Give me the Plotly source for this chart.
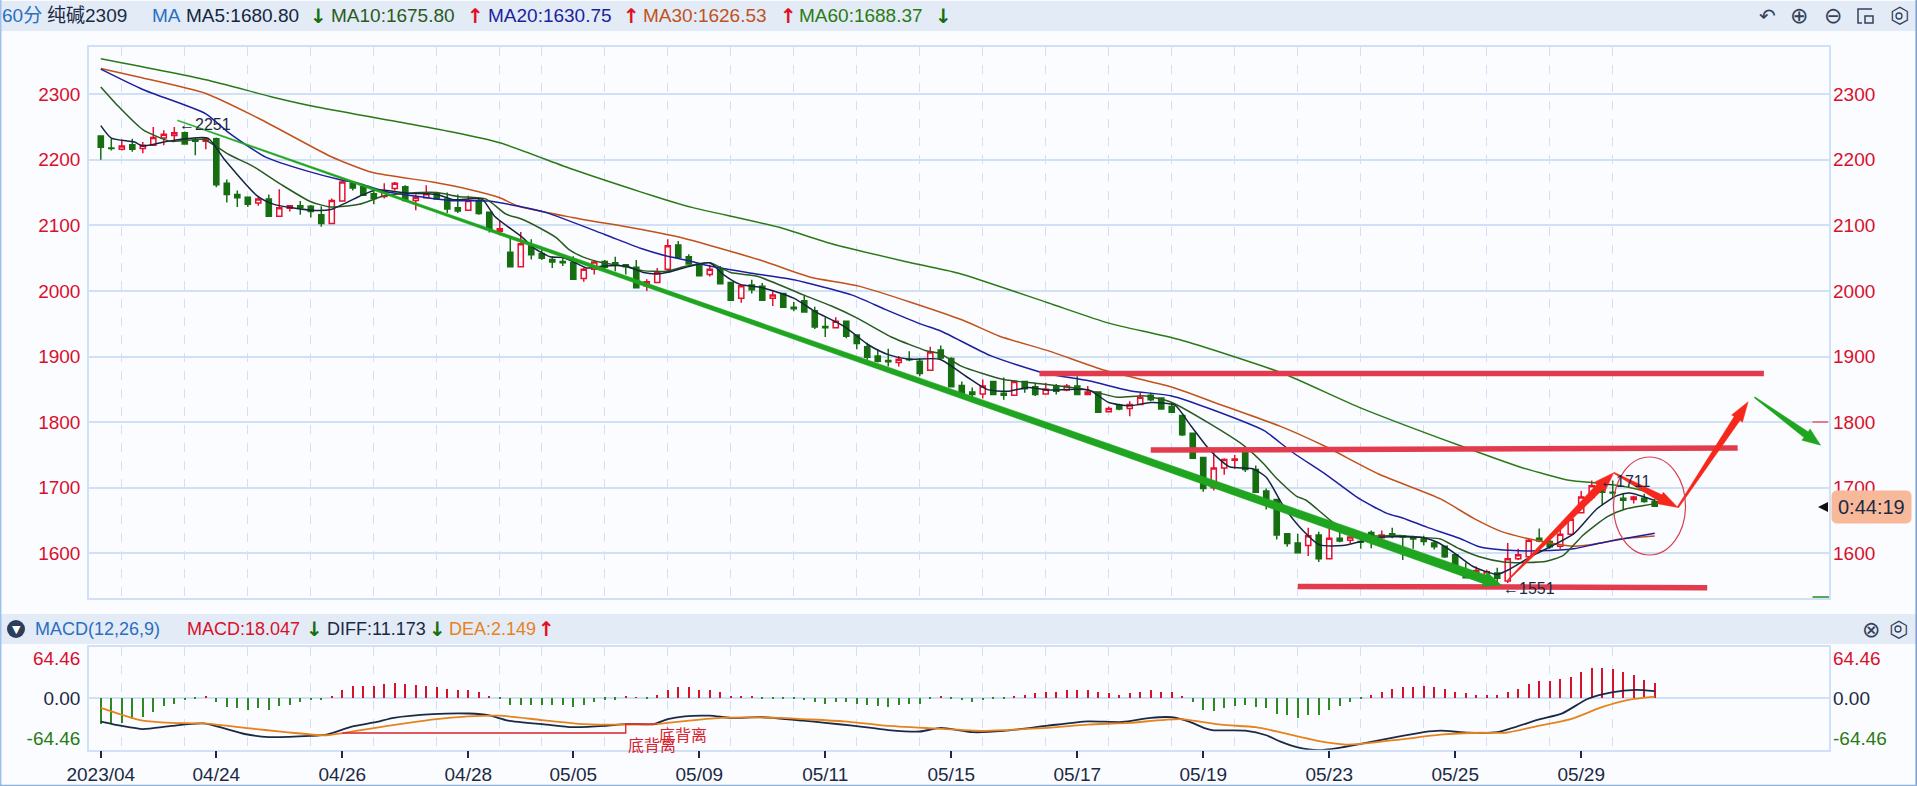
import plotly.graph_objects as go

W = 1917
H = 786

# candles, bar index 0..148
open_ = [2236, 2218, 2216, 2223, 2217, 2222, 2233, 2237, 2241, 2229, 2228, 2232, 2164, 2147, 2143, 2134, 2140, 2114, 2126, 2130,
  2129, 2116, 2103, 2137, 2164, 2159, 2148, 2144, 2156, 2159, 2138, 2142, 2148, 2140, 2127, 2123, 2138, 2120, 2091, 2059,
  2037, 2070, 2057, 2048, 2045, 2043, 2019, 2033, 2045, 2043, 2040, 2036, 2008, 2013, 2033, 2070, 2052, 2041, 2025, 2033,
  2013, 1989, 2009, 2007, 1989, 1996, 1975, 1985, 1970, 1946, 1944, 1954, 1933, 1915, 1901, 1894, 1891, 1896, 1893, 1879,
  1910, 1897, 1856, 1846, 1843, 1862, 1844, 1841, 1862, 1854, 1843, 1855, 1849, 1855, 1842, 1846, 1816, 1826, 1821, 1827,
  1841, 1837, 1824, 1810, 1783, 1746, 1700, 1730, 1742, 1756, 1728, 1695, 1682, 1630, 1616, 1612, 1628, 1592, 1623, 1620,
  1618, 1632, 1624, 1630, 1627, 1625, 1622, 1616, 1611, 1598, 1572, 1567, 1566, 1570, 1558, 1592, 1595, 1623, 1618, 1611,
  1629, 1662, 1685, 1699, 1693, 1684, 1682, 1684, 1679]
close = [2219, 2217, 2221, 2216, 2222, 2234, 2239, 2241, 2224, 2228, 2232, 2162, 2147, 2142, 2132, 2140, 2114, 2127, 2130, 2127,
  2121, 2103, 2138, 2166, 2157, 2146, 2141, 2152, 2164, 2138, 2143, 2148, 2140, 2125, 2122, 2138, 2118, 2094, 2095, 2037,
  2072, 2055, 2050, 2044, 2043, 2018, 2033, 2044, 2036, 2040, 2037, 2005, 2014, 2028, 2069, 2051, 2041, 2023, 2033, 2011,
  1986, 2008, 2002, 1986, 1994, 1975, 1973, 1968, 1945, 1944, 1954, 1931, 1920, 1899, 1893, 1892, 1896, 1895, 1874, 1907,
  1898, 1854, 1844, 1842, 1855, 1842, 1841, 1862, 1851, 1842, 1850, 1847, 1855, 1842, 1846, 1815, 1821, 1820, 1827, 1838,
  1834, 1820, 1815, 1781, 1745, 1699, 1730, 1743, 1744, 1728, 1693, 1683, 1628, 1615, 1601, 1627, 1592, 1623, 1619, 1625,
  1617, 1625, 1628, 1626, 1625, 1622, 1618, 1610, 1595, 1582, 1563, 1574, 1572, 1562, 1592, 1598, 1620, 1619, 1610, 1629,
  1652, 1686, 1703, 1693, 1692, 1681, 1686, 1679, 1672]
high = [2236, 2232, 2231, 2232, 2227, 2250, 2245, 2250, 2243, 2234, 2234, 2234, 2170, 2153, 2144, 2144, 2147, 2155, 2131, 2137,
  2131, 2129, 2141, 2170, 2166, 2162, 2152, 2164, 2166, 2161, 2147, 2161, 2151, 2150, 2147, 2145, 2141, 2121, 2107, 2081,
  2090, 2079, 2065, 2053, 2051, 2053, 2035, 2046, 2047, 2052, 2041, 2047, 2018, 2035, 2079, 2076, 2056, 2043, 2040, 2038,
  2014, 2010, 2017, 2012, 2000, 1997, 1983, 1994, 1976, 1960, 1960, 1955, 1934, 1921, 1911, 1912, 1901, 1908, 1897, 1915,
  1917, 1899, 1862, 1853, 1865, 1863, 1868, 1864, 1863, 1860, 1860, 1858, 1858, 1870, 1855, 1846, 1824, 1828, 1832, 1845,
  1845, 1838, 1830, 1811, 1783, 1746, 1754, 1745, 1750, 1756, 1734, 1699, 1683, 1630, 1630, 1639, 1633, 1639, 1635, 1625,
  1620, 1635, 1635, 1639, 1627, 1627, 1627, 1619, 1612, 1600, 1586, 1580, 1575, 1578, 1616, 1607, 1623, 1638, 1625, 1640,
  1655, 1695, 1711, 1706, 1711, 1691, 1688, 1691, 1683]
low = [2200, 2214, 2214, 2212, 2210, 2221, 2222, 2230, 2224, 2207, 2216, 2158, 2135, 2128, 2128, 2130, 2114, 2114, 2121, 2116,
  2112, 2098, 2103, 2137, 2153, 2146, 2132, 2141, 2153, 2137, 2123, 2141, 2140, 2119, 2119, 2123, 2116, 2089, 2085, 2037,
  2037, 2048, 2047, 2035, 2038, 2018, 2014, 2025, 2033, 2030, 2025, 2005, 2000, 2013, 2029, 2050, 2040, 2023, 2022, 2010,
  1986, 1982, 1996, 1986, 1977, 1975, 1969, 1968, 1942, 1930, 1943, 1928, 1911, 1895, 1891, 1885, 1885, 1893, 1870, 1879,
  1895, 1853, 1843, 1838, 1836, 1841, 1834, 1840, 1845, 1840, 1842, 1842, 1847, 1842, 1841, 1815, 1815, 1818, 1809, 1826,
  1832, 1820, 1815, 1779, 1744, 1694, 1696, 1720, 1729, 1724, 1693, 1667, 1621, 1610, 1601, 1596, 1587, 1592, 1617, 1615,
  1607, 1608, 1622, 1623, 1590, 1607, 1612, 1606, 1593, 1578, 1562, 1565, 1564, 1551, 1555, 1590, 1595, 1617, 1607, 1607,
  1629, 1662, 1681, 1673, 1685, 1666, 1676, 1677, 1672]

ma5_x = [0, 1, 3.2, 4, 6, 7.5, 10.2, 11.8, 14.9, 16.5, 20, 21.9, 24.6, 26.2, 29.3, 32, 33.6, 36.3, 37.5, 40.2, 41.2, 42.8, 44,
  45.2, 46.3, 47.9, 50, 51.7, 53, 53.9, 55.5, 58, 59.3, 60.9, 63, 66, 68, 70.8, 73.1, 75, 77, 79.9, 82.4, 84.4, 86.3, 88.3,
  90.2, 94.1, 96, 98, 100, 102.3, 103.8, 105.7, 107.5, 109.7, 111, 112.6, 114.2, 116.1, 118.3, 120.2, 122.1, 126, 127.3,
  128.8, 130.7, 133, 134.2, 136.4, 138.3, 140.3, 142.5, 144.4, 145.6, 148]
ma5_y = [2252, 2233, 2227, 2221, 2227, 2231, 2233, 2200, 2145, 2132, 2123, 2124, 2144, 2154, 2149, 2147, 2139, 2140, 2114, 2081,
  2066, 2052, 2051, 2043, 2035, 2038, 2038, 2028, 2026, 2028, 2035, 2043, 2025, 2010, 2005, 1989, 1969, 1946, 1918, 1903,
  1896, 1896, 1870, 1850, 1847, 1853, 1849, 1849, 1830, 1825, 1830, 1826, 1795, 1756, 1732, 1729, 1716, 1673, 1640, 1613,
  1612, 1619, 1625, 1624, 1617, 1602, 1580, 1568, 1576, 1597, 1612, 1630, 1668, 1688, 1692, 1680.8]
ma10_x = [0, 1.7, 4, 6.7, 9.8, 12.2, 14.5, 17.2, 20, 21.9, 24.6, 27, 29.3, 32, 34, 36.7, 38.6, 40, 41.8, 43.4, 44.6, 45.9, 47.8,
  49.7, 51.6, 53.8, 55.8, 58, 60, 62.6, 66.9, 69.6, 72, 75.4, 78.6, 80, 82, 86, 88.7, 93.7, 96.8, 99.5, 102, 105.7, 108.9,
  110.8, 112, 113.9, 114.8, 117.3, 119.3, 124, 126, 127.6, 129.4, 131.3, 133.6, 135.8, 137.7, 139.3, 141.2, 143.5, 145.3, 148]
ma10_y = [2311, 2281, 2246, 2228, 2231, 2208, 2190, 2162, 2136, 2128, 2132, 2145, 2149, 2150, 2144, 2140, 2117, 2110, 2096, 2081,
  2063, 2052, 2043, 2038, 2031, 2030, 2038, 2043, 2028, 2022, 1994, 1977, 1959, 1929, 1909, 1904, 1885, 1865, 1860, 1850, 1838,
  1840, 1830, 1797, 1764, 1736, 1714, 1687, 1681, 1648, 1628, 1627, 1624, 1622, 1607, 1595, 1587, 1586, 1588, 1597, 1628, 1656,
  1668, 1675.8]
ma20_x = [0, 4, 10, 12.2, 15.7, 19.6, 22.7, 24.6, 27, 33.2, 37, 39.8, 42.5, 48, 51.4, 53.7, 56, 58, 62, 66, 71.5, 74.7, 78.2, 80,
  84.8, 89.8, 94.1, 98, 102, 105.7, 110.8, 112.3, 113.6, 116.8, 119.9, 122.5, 124, 126.3, 129.4, 131.3, 133.6, 137, 140.3, 142.6,
  145.3, 148]
ma20_y = [2338, 2307, 2270, 2241, 2204, 2183, 2170, 2164, 2152, 2138, 2137, 2129, 2119, 2086, 2065, 2054, 2046, 2038, 2027, 2017,
  1994, 1972, 1949, 1939, 1901, 1875, 1863, 1848, 1840, 1820, 1787, 1769, 1753, 1719, 1683, 1661, 1654, 1640, 1623, 1610, 1605,
  1604, 1607, 1615, 1623, 1630.75]
ma30_x = [0, 3.6, 10, 15.3, 21.9, 25.8, 31.6, 35, 38, 39.8, 44.9, 51.4, 55.6, 63, 67.6, 72.3, 82, 85.6, 90.2, 95.6, 101.9, 106.6,
  112.3, 116.5, 121.7, 127.6, 130.8, 133.3, 135.8, 138.3, 140.3, 142.6, 144.7, 148]
ma30_y = [2339, 2326, 2301, 2261, 2205, 2181, 2166, 2155, 2142, 2129, 2112, 2094, 2080, 2046, 2021, 2007, 1956, 1931, 1909, 1879,
  1854, 1827, 1794, 1764, 1721, 1683, 1653, 1634, 1623, 1615, 1611, 1615, 1622, 1626.53]
ma60_x = [0, 10, 16.5, 20.7, 29.3, 33.6, 38, 45, 51.4, 54, 56.4, 64.6, 69.6, 76.6, 81.7, 90.2, 96, 102.7, 112.5, 119.8, 129.5,
  135.3, 140, 142, 144.7, 147.2, 148]
ma60_y = [2354, 2322, 2295, 2280, 2255, 2242, 2226, 2185, 2151, 2138, 2127, 2097, 2072, 2045, 2027, 1982, 1951, 1926, 1875, 1823,
  1764, 1731, 1711, 1708, 1703, 1694, 1688.37]

macd_bar = [-42, -42, -40, -35, -31, -23, -14, -10, -4, -1.5, 1.5, -7, -15, -16, -19, -17, -19, -14, -12, -7,
  -4, -4, 1.5, 12, 19, 19, 19, 21.5, 24, 22, 20, 19, 17, 14.5, 12, 12, 10, 1.5, -1.5, -12,
  -12, -12, -12, -12, -12, -15, -12, -7, -3, -3, 2.5, 1, -1.5, 5, 13, 17, 17, 13, 12, 10,
  3, 2, 2, -1.5, -2, -2, -1.5, -4, -7.5, -10, -7, -7.5, -10, -12, -14, -15, -12, -10, -10, -2,
  2, -2, -4, -7, -4, -2, -2.5, 1.5, 4, 7.5, 10, 10, 12, 12, 12, 10, 7.5, 4, 7.5, 10,
  12, 10, 10, 1.5, -6.5, -19, -21.5, -17, -14, -12, -15.5, -17, -26, -28, -33, -28, -28, -19, -14, -7,
  -1, 5, 9, 14, 16.5, 16.5, 19, 16.5, 14, 10, 7, 4, 4, 4, 10, 14.5, 22, 27, 27, 30,
  34, 41, 48, 48, 46, 41, 36, 29, 24]
diff_x = [0, 2, 4, 6.7, 9.8, 13.7, 16, 20, 21.5, 23.9, 26.2, 27.9, 31.6, 35.1, 37, 38.8, 42.5, 44.9, 48, 50, 52.7, 54, 55.6, 58, 60,
  63, 66.9, 69, 71.6, 75, 78, 80, 83, 86, 90.2, 94, 97.3, 100, 102, 103.6, 105.2, 106, 109, 111, 112.3, 114, 116, 117.8, 120,
  123.7, 126, 127.6, 130.3, 133, 136.9, 139.2, 141.6, 143.9, 146.2, 148]
diff_y = [-38, -45, -50, -45, -41, -58, -63, -61, -59, -46, -39, -32, -26, -25, -28, -36.5, -43, -47, -45, -42, -42, -34, -29.5,
  -28.5, -32, -31, -36.5, -40, -44.6, -51.6, -54, -48, -55, -53, -44.6, -37.6, -38.7, -32, -31, -37.6, -49, -52, -52.6, -60, -70,
  -79.5, -84, -80.6, -74, -62, -55, -52.6, -56, -55, -35, -24.7, -1.6, 9, 13, 11.173]
dea_x = [0, 2, 4, 6.7, 9.8, 13.7, 17.6, 21.5, 25.4, 29.3, 32, 35, 38, 42, 46, 50, 52.9, 56, 59.1, 64.6, 66.9, 70.8, 74.7, 79.3, 84,
  86.3, 90.2, 94, 98, 102.8, 106.7, 110, 112.3, 115.9, 118.6, 120, 123.7, 127.6, 131.5, 133.8, 136.9, 140, 143.1, 145.5, 148]
dea_y = [-16, -27, -36.5, -40, -41, -48, -55, -60, -50, -40, -34, -29.5, -28.5, -35.5, -42, -43, -42, -36.5, -32, -32, -34, -37.6,
  -44.6, -49, -53, -51.6, -48, -43, -40, -34, -43, -47, -55, -69, -75, -74, -67, -59, -56, -56, -45, -34, -14, -3, 2.149]

grid_idx = [2, 8, 14, 20, 26, 32, 38, 42, 48, 54, 60, 66, 72, 78, 84, 90, 96, 102, 108, 114, 120, 126, 132, 138, 144]
tick_idx = [0, 11, 23, 35, 45, 57, 69, 81, 93, 105, 117, 129, 141]
tick_labels = ['2023/04', '04/24', '04/26', '04/28', '05/05', '05/09', '05/11', '05/15', '05/17', '05/19', '05/23', '05/25', '05/29']
price_ticks = [1600, 1700, 1800, 1900, 2000, 2100, 2200, 2300]
macd_ticks = [-64.46, 0, 64.46]

# hand drawn marks on the chart: (bar index, price)
hlines = [
  [(89.4, 1874), (158.4, 1874)],
  [(100, 1757.5), (155.9, 1760.5)],
  [(114, 1549.7), (153, 1547.7)],
]
# start, tip, tail width, neck width, head width, head length (px)
arrows = [
  [(7.3, 2260), (133.4, 1551.6), 1, 9, 15, 18, '#1fa51f'],
  [(134, 1559), (144.1, 1723), 1, 8, 14, 20, '#f6281c'],
  [(144.1, 1723), (150.2, 1670), 1, 7, 13, 20, '#f6281c'],
  [(150.2, 1670), (156.9, 1831), 1.5, 7, 13, 20, '#f6281c'],
  [(157.5, 1838), (163.8, 1765), 1, 7, 14, 18, '#1fa51f'],
]

BG = '#fbfcff'
BAR_BG = '#e3ebf6'
GRID = '#d0e0f5'
RED = '#d8102c'
GREEN = '#166e10'
NAVY = '#1b2a44'
BLUE = '#2a6fc0'
ORANGE = '#e6831c'
MA5_C = '#14263f'
MA10_C = '#2a5a1e'
MA20_C = '#1c1fa0'
MA30_C = '#c2521a'
MA60_C = '#2a7a14'
FONT = 'Liberation Sans, Noto Sans CJK SC, sans-serif'

# pixel box of the two panels
L, R = 89, 1829
T1, B1 = 46.7, 598
T2, B2 = 647.3, 749.7
X_RANGE = [-1.124, 164.6]
Y1_RANGE = [1532, 2372.3]
Y2_RANGE = [-83.3, 81.7]


def px(x):
  return x / W


def py(y):
  return 1 - y / H


def to_px(idx, price):
  x = L + (idx - X_RANGE[0]) / (X_RANGE[1] - X_RANGE[0]) * (R - L)
  y = T1 + (Y1_RANGE[1] - price) / (Y1_RANGE[1] - Y1_RANGE[0]) * (B1 - T1)
  return x, y


def to_data(x, y):
  idx = X_RANGE[0] + (x - L) / (R - L) * (X_RANGE[1] - X_RANGE[0])
  price = Y1_RANGE[1] - (y - T1) / (B1 - T1) * (Y1_RANGE[1] - Y1_RANGE[0])
  return idx, price


def arrow_polygon(start, tip, w0, w1, head_w, head_l):
  x0, y0 = to_px(*start)
  x1, y1 = to_px(*tip)
  length = ((x1 - x0) ** 2 + (y1 - y0) ** 2) ** 0.5
  ux, uy = (x1 - x0) / length, (y1 - y0) / length
  nx, ny = -uy, ux
  bx, by = x1 - ux * head_l, y1 - uy * head_l
  pts = [
    (x0 + nx * w0 / 2, y0 + ny * w0 / 2),
    (bx + nx * w1 / 2, by + ny * w1 / 2),
    (bx + nx * head_w / 2, by + ny * head_w / 2),
    (x1, y1),
    (bx - nx * head_w / 2, by - ny * head_w / 2),
    (bx - nx * w1 / 2, by - ny * w1 / 2),
    (x0 - nx * w0 / 2, y0 - ny * w0 / 2),
  ]
  pts = [to_data(*p) for p in pts]
  return [p[0] for p in pts], [p[1] for p in pts]


fig = go.Figure()

idx = list(range(len(close)))

fig.add_trace(go.Candlestick(
  x=idx, open=open_, high=high, low=low, close=close,
  increasing=dict(line=dict(color='#e8102e', width=1.5), fillcolor=BG),
  decreasing=dict(line=dict(color=GREEN, width=1.5), fillcolor=GREEN),
  whiskerwidth=0,
  showlegend=False,
  xaxis='x', yaxis='y',
))

for xs, ys, color in [
  (ma60_x, ma60_y, MA60_C),
  (ma30_x, ma30_y, MA30_C),
  (ma20_x, ma20_y, MA20_C),
  (ma10_x, ma10_y, MA10_C),
  (ma5_x, ma5_y, MA5_C),
]:
  fig.add_trace(go.Scatter(
    x=xs, y=ys, mode='lines',
    line=dict(color=color, width=1.5, shape='spline', smoothing=0.6),
    showlegend=False, hoverinfo='skip',
    xaxis='x', yaxis='y',
  ))

for pts in hlines:
  fig.add_trace(go.Scatter(
    x=[p[0] for p in pts], y=[p[1] for p in pts], mode='lines',
    line=dict(color='#e23b4e', width=5.5),
    showlegend=False, hoverinfo='skip',
    xaxis='x', yaxis='y',
  ))

for start, tip, w0, w1, head_w, head_l, color in arrows:
  xs, ys = arrow_polygon(start, tip, w0, w1, head_w, head_l)
  fig.add_trace(go.Scatter(
    x=xs, y=ys, mode='lines', fill='toself', fillcolor=color,
    line=dict(color=color, width=0.5),
    showlegend=False, hoverinfo='skip',
    xaxis='x', yaxis='y',
  ))

# right hand price axis needs something to hang on
fig.add_trace(go.Scatter(x=[None], y=[None], mode='lines', showlegend=False, hoverinfo='skip', xaxis='x', yaxis='y3'))

fig.add_trace(go.Bar(
  x=idx, y=macd_bar, width=0.13,
  marker=dict(color=['#d9122c' if v > 0 else '#2c8a20' for v in macd_bar], line=dict(width=0)),
  showlegend=False,
  xaxis='x2', yaxis='y2',
))

fig.add_trace(go.Scatter(
  x=diff_x, y=diff_y, mode='lines', line=dict(color=NAVY, width=1.8, shape='spline', smoothing=0.6),
  showlegend=False, hoverinfo='skip', xaxis='x2', yaxis='y2',
))
fig.add_trace(go.Scatter(
  x=dea_x, y=dea_y, mode='lines', line=dict(color=ORANGE, width=1.8, shape='spline', smoothing=0.6),
  showlegend=False, hoverinfo='skip', xaxis='x2', yaxis='y2',
))

# divergence brackets
fig.add_trace(go.Scatter(
  x=[23, 50, 50], y=[-56.4, -56.4, -42], mode='lines', line=dict(color='#d9202c', width=1.3),
  showlegend=False, hoverinfo='skip', xaxis='x2', yaxis='y2',
))
fig.add_trace(go.Scatter(
  x=[50, 53], y=[-42, -42], mode='lines', line=dict(color='#d9202c', width=1.3),
  showlegend=False, hoverinfo='skip', xaxis='x2', yaxis='y2',
))
fig.add_trace(go.Scatter(x=[None], y=[None], mode='lines', showlegend=False, hoverinfo='skip', xaxis='x2', yaxis='y4'))


def rounded_box(x0, y0, x1, y1, r):
  return (f'M {px(x0 + r)} {py(y0)} L {px(x1 - r)} {py(y0)} Q {px(x1)} {py(y0)} {px(x1)} {py(y0 + r)} '
    f'L {px(x1)} {py(y1 - r)} Q {px(x1)} {py(y1)} {px(x1 - r)} {py(y1)} '
    f'L {px(x0 + r)} {py(y1)} Q {px(x0)} {py(y1)} {px(x0)} {py(y1 - r)} '
    f'L {px(x0)} {py(y0 + r)} Q {px(x0)} {py(y0)} {px(x0 + r)} {py(y0)} Z')


shapes = [
  dict(type='rect', xref='paper', yref='paper', x0=px(1), x1=px(1916), y0=py(1), y1=py(31),
    fillcolor=BAR_BG, line=dict(width=0), layer='below'),
  dict(type='rect', xref='paper', yref='paper', x0=px(1), x1=px(1916), y0=py(614), y1=py(644),
    fillcolor=BAR_BG, line=dict(width=0), layer='below'),
  dict(type='line', xref='paper', yref='paper', x0=px(0.7), x1=px(0.7), y0=0, y1=1, line=dict(color='#9dc0ee', width=1.5)),
  dict(type='line', xref='paper', yref='paper', x0=px(1916.2), x1=px(1916.2), y0=0, y1=1, line=dict(color='#7e9cc8', width=1.5)),
  dict(type='line', xref='paper', yref='paper', x0=0, x1=1, y0=py(785.4), y1=py(785.4), line=dict(color='#8ab0d8', width=1.2)),
  # ellipse around the last bars
  dict(type='circle', xref='paper', yref='paper', x0=px(1613.5), x1=px(1685.5), y0=py(555), y1=py(457),
    line=dict(color='#d9404f', width=1.2)),
  # side markers on the right axis
  dict(type='line', xref='paper', yref='paper', x0=px(1812.5), x1=px(1828), y0=py(422), y1=py(422), line=dict(color='#e0404f', width=1.2)),
  dict(type='line', xref='paper', yref='paper', x0=px(1812.5), x1=px(1829), y0=py(597), y1=py(597), line=dict(color='#1f8f1f', width=1.5)),
  # countdown box
  dict(type='path', xref='paper', yref='paper', path=rounded_box(1832, 491, 1911, 523, 5),
    fillcolor='#f8b99a', line=dict(color='#f8b99a', width=1)),
  # window icon
  dict(type='path', xref='paper', yref='paper',
    path=f'M {px(1872)} {py(9)} L {px(1858)} {py(9)} L {px(1858)} {py(23)} L {px(1862)} {py(23)}',
    line=dict(color='#33415a', width=1.5)),
  dict(type='rect', xref='paper', yref='paper', x0=px(1865), x1=px(1873), y0=py(16), y1=py(23),
    line=dict(color='#33415a', width=1.5)),
  dict(type='path', xref='paper', yref='paper',
    path=f'M {px(1818)} {py(507)} L {px(1828)} {py(502)} L {px(1828)} {py(512)} Z',
    fillcolor='#111111', line=dict(width=0)),
  # collapse button
  dict(type='circle', xref='paper', yref='paper', x0=px(7), x1=px(25), y0=py(638), y1=py(620),
    fillcolor='#2c3e5a', line=dict(width=0)),
  # small dots of the hexagon buttons
  dict(type='circle', xref='paper', yref='paper', x0=px(1896), x1=px(1902), y0=py(19), y1=py(13),
    line=dict(color='#33415a', width=1.3)),
  dict(type='circle', xref='paper', yref='paper', x0=px(1895), x1=px(1901), y0=py(632), y1=py(626),
    line=dict(color='#33415a', width=1.3)),
]


def label(text, x, y, color, size=19, anchor='left', family=FONT):
  # annotations carry a little padding on the left
  x = x - 2.5 if anchor == 'left' else x
  return dict(text=text, xref='paper', yref='paper', x=px(x), y=py(y), xanchor=anchor, yanchor='middle',
    showarrow=False, font=dict(family=family, size=size, color=color))


def data_label(text, x, y, color, size=16, xaxis='x', yaxis='y'):
  return dict(text=text, xref=xaxis, yref=yaxis, x=x, y=y, xanchor='left', yanchor='middle',
    showarrow=False, font=dict(family=FONT, size=size, color=color))


def updown(x, y, up):
  return label('<b>↑</b>' if up else '<b>↓</b>', x, y, '#e0101e' if up else GREEN, size=20, anchor='center', family='DejaVu Sans')


annotations = [
  label('60分', 2, 16, BLUE),
  label('纯碱2309', 47, 16, NAVY),
  label('MA', 152, 16, BLUE),
  label('MA5:1680.80', 186, 16, MA5_C),
  updown(318, 16, False),
  label('MA10:1675.80', 331, 16, MA10_C),
  updown(475, 16, True),
  label('MA20:1630.75', 488, 16, MA20_C),
  updown(631, 16, True),
  label('MA30:1626.53', 643, 16, MA30_C),
  updown(788, 16, True),
  label('MA60:1688.37', 799, 16, MA60_C),
  updown(943, 16, False),
  label('⊕', 1799, 16, '#33415a', size=22, anchor='center', family='DejaVu Sans'),
  label('⊖', 1833, 16, '#33415a', size=22, anchor='center', family='DejaVu Sans'),
  label('↶', 1767, 16, '#33415a', size=20, anchor='center', family='DejaVu Sans'),
  label('⬡', 1899, 16, '#33415a', size=22, anchor='center', family='DejaVu Sans'),
  label('▼', 16, 629, '#ffffff', size=11, anchor='center', family='DejaVu Sans'),
  label('MACD(12,26,9)', 35, 629, BLUE, size=18),
  label('MACD:18.047', 187, 629, RED, size=18),
  updown(314.5, 629, False),
  label('DIFF:11.173', 327, 629, NAVY, size=18),
  updown(437, 629, False),
  label('DEA:2.149', 449, 629, ORANGE, size=18),
  updown(546, 629, True),
  label('⊗', 1871, 629, '#33415a', size=22, anchor='center', family='DejaVu Sans'),
  label('⬡', 1898, 629, '#33415a', size=22, anchor='center', family='DejaVu Sans'),
  label('0:44:19', 1871.5, 507, NAVY, size=20, anchor='center'),
  data_label('←2251', 7.3, 2254, NAVY),
  data_label('←1551', 133.4, 1546, NAVY),
  data_label('←1711', 142.6, 1709, NAVY),
  data_label('底背离', 50, -77, '#d9202c', xaxis='x2', yaxis='y2'),
  data_label('底背离', 53, -61, '#d9202c', xaxis='x2', yaxis='y2'),
]

axis_common = dict(showline=True, linecolor=GRID, linewidth=1.5, mirror=True, zeroline=False, fixedrange=True, automargin=False)

fig.update_layout(
  width=W,
  height=H,
  margin=dict(l=0, r=0, t=0, b=0, pad=0),
  paper_bgcolor=BG,
  plot_bgcolor=BG,
  font=dict(family=FONT, size=19, color=NAVY),
  showlegend=False,
  bargap=0,
  shapes=shapes,
  annotations=annotations,
  xaxis=dict(
    domain=[px(L), px(R)], range=X_RANGE, anchor='y',
    tickvals=grid_idx, showticklabels=False, ticks='',
    showgrid=True, gridcolor=GRID, griddash='dash', gridwidth=1,
    rangeslider=dict(visible=False),
    **axis_common,
  ),
  yaxis=dict(
    domain=[py(B1), py(T1)], range=Y1_RANGE, anchor='x',
    tickvals=price_ticks, ticks='', ticklabelstandoff=3,
    tickfont=dict(color=RED, size=19),
    showgrid=True, gridcolor=GRID, gridwidth=1.5,
    **axis_common,
  ),
  yaxis3=dict(
    overlaying='y', side='right', anchor='x', range=Y1_RANGE,
    tickvals=price_ticks, ticks='', ticklabelstandoff=3,
    tickfont=dict(color=RED, size=19),
    showgrid=False, zeroline=False, showline=False, fixedrange=True, automargin=False,
  ),
  xaxis2=dict(
    domain=[px(L), px(R)], range=X_RANGE, anchor='y2',
    tickvals=tick_idx, ticktext=tick_labels, ticks='outside', ticklen=7, tickwidth=1.5, tickcolor=NAVY,
    tickfont=dict(color=NAVY, size=19),
    showgrid=False,
    minor=dict(tickvals=grid_idx, showgrid=True, gridcolor=GRID, griddash='dash', gridwidth=1, ticks=''),
    **axis_common,
  ),
  yaxis2=dict(
    domain=[py(B2), py(T2)], range=Y2_RANGE, anchor='x2',
    tickvals=macd_ticks,
    ticktext=['<span style="color:#2a7a14">-64.46</span>', '0.00', '<span style="color:#d8102c">64.46</span>'],
    ticks='', ticklabelstandoff=3,
    tickfont=dict(color=NAVY, size=19),
    showgrid=False,
    **axis_common,
  ),
  yaxis4=dict(
    overlaying='y2', side='right', anchor='x2', range=Y2_RANGE,
    tickvals=macd_ticks,
    ticktext=['<span style="color:#2a7a14">-64.46</span>', '0.00', '<span style="color:#d8102c">64.46</span>'],
    ticks='', ticklabelstandoff=3,
    tickfont=dict(color=NAVY, size=19),
    showgrid=False, zeroline=True, zerolinecolor=GRID, zerolinewidth=1.5, showline=False, fixedrange=True, automargin=False,
  ),
)

fig.write_html("out.html", config=dict(displayModeBar=False), post_script="document.body.style.margin='0';document.body.style.overflow='hidden';")
